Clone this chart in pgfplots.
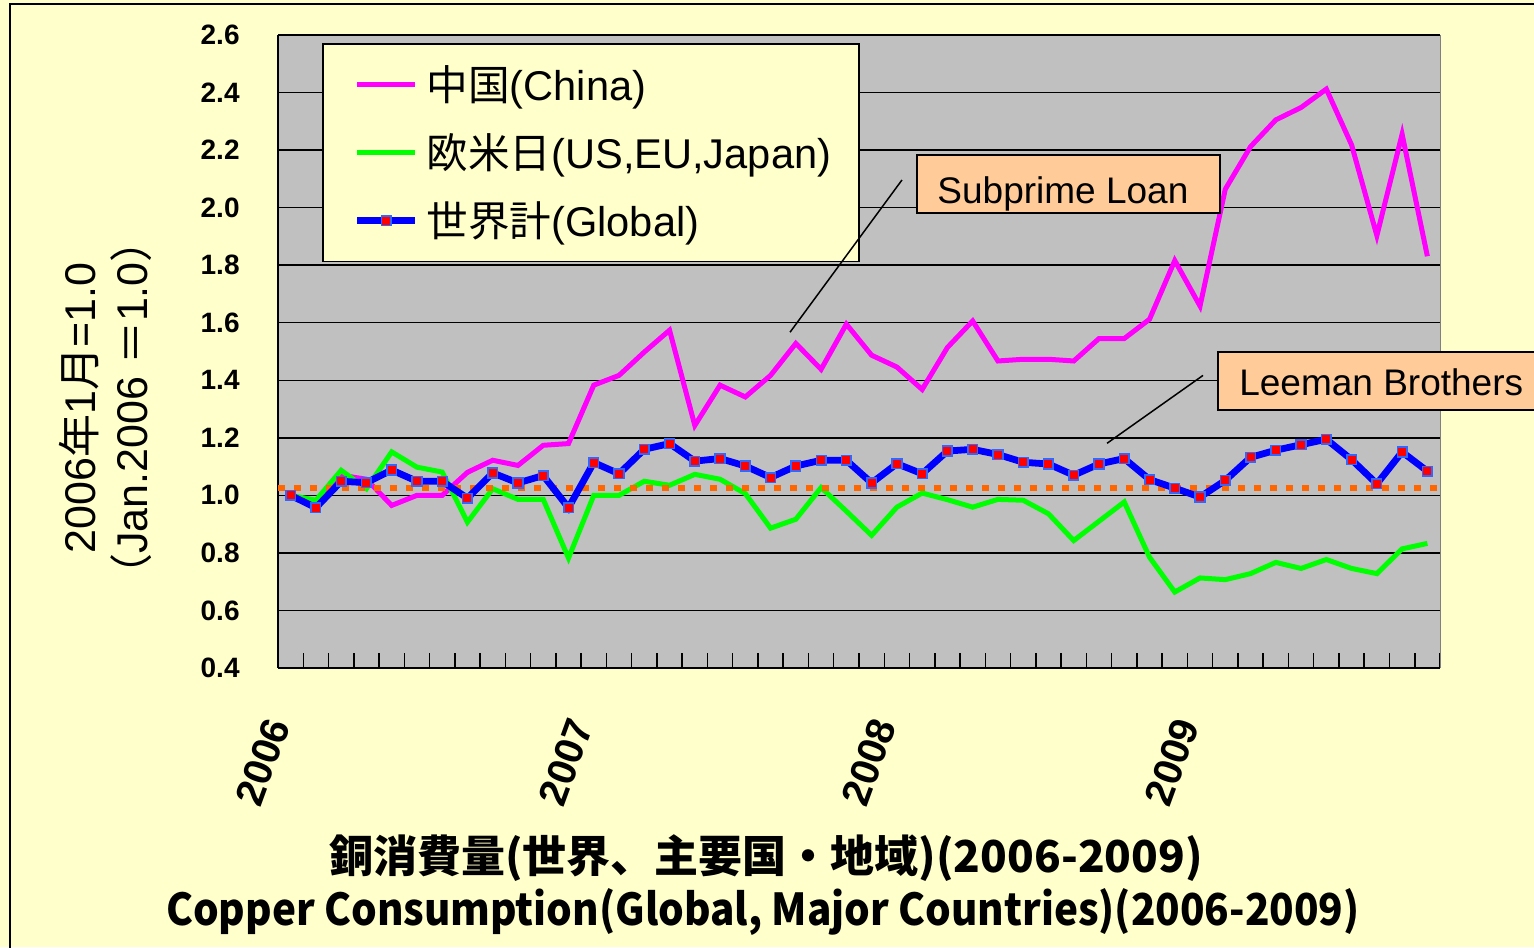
\documentclass[border=0pt]{standalone}
\usepackage{pgfplots}
\usepackage{pgfplotstable}
\pgfplotsset{compat=1.18}
\usepackage{fontspec}
\setmainfont{Liberation Sans}
\newfontfamily\cjk{Noto Sans CJK JP}
\definecolor{bgyellow}{HTML}{FFFFCC}
\definecolor{plotgray}{HTML}{C0C0C0}
\definecolor{peach}{HTML}{FFCC99}
\definecolor{cmag}{HTML}{FF00FF}
\definecolor{cgreen}{HTML}{00FF00}
\definecolor{cblue}{HTML}{0000FF}
\definecolor{mkborder}{HTML}{3366FF}
\definecolor{corange}{HTML}{FF6600}

\pgfplotstableread{
i  china  useuj  global
0  1.000  1.000  1.000
1  0.957  0.983  0.957
2  1.070  1.087  1.049
3  1.056  1.023  1.044
4  0.965  1.151  1.088
5  1.000  1.098  1.049
6  1.000  1.081  1.049
7  1.080  0.907  0.990
8  1.122  1.023  1.078
9  1.104  0.986  1.043
10 1.174  0.986  1.069
11 1.180  0.782  0.957
12 1.383  1.000  1.114
13 1.417  1.000  1.075
14 1.498  1.049  1.160
15 1.574  1.035  1.180
16 1.243  1.073  1.119
17 1.383  1.056  1.128
18 1.342  1.006  1.102
19 1.417  0.886  1.062
20 1.528  0.917  1.102
21 1.438  1.027  1.122
22 1.595  0.945  1.122
23 1.487  0.861  1.043
24 1.446  0.959  1.110
25 1.368  1.008  1.075
26 1.514  0.985  1.154
27 1.606  0.959  1.160
28 1.467  0.986  1.142
29 1.473  0.983  1.115
30 1.473  0.936  1.109
31 1.467  0.843  1.070
32 1.545  0.910  1.109
33 1.545  0.977  1.128
34 1.612  0.785  1.055
35 1.816  0.664  1.025
36 1.658  0.713  0.994
37 2.064  0.707  1.052
38 2.212  0.728  1.132
39 2.305  0.767  1.157
40 2.348  0.746  1.176
41 2.412  0.777  1.195
42 2.218  0.746  1.124
43 1.903  0.728  1.040
44 2.255  0.814  1.151
45 1.831  0.833  1.084
}\datatable

\begin{document}
\begin{tikzpicture}[x=1pt,y=1pt]
\fill[bgyellow] (0,0) rectangle (767,473.5);
\useasboundingbox (0,0) rectangle (767,473.5);
\draw[line width=0.75pt] (5,-20) -- (5,471.5) -- (800,471.5);
\begin{axis}[
  at={(139pt,139.5pt)}, anchor=south west,
  scale only axis, width=581pt, height=316.5pt,
  xmin=-0.5, xmax=45.5, ymin=0.4, ymax=2.6,
  clip=false,
  axis background/.style={fill=plotgray},
  axis x line*=bottom, axis y line*=left,
  axis line style={line width=1pt, black},
  ytick={0.4,0.6,0.8,1.0,1.2,1.4,1.6,1.8,2.0,2.2,2.4,2.6},
  ymajorgrids, major grid style={black, line width=0.75pt},
  ytick style={draw=none},
  yticklabel style={font=\bfseries\fontsize{14}{14}\selectfont, anchor=east, inner sep=0pt, xshift=-19pt,
    /pgf/number format/.cd, fixed, fixed zerofill, precision=1, assume math mode=true},
  xtick={-0.5,11.5,23.5,35.5},
  xticklabels={2006,2007,2008,2009},
  minor xtick={0.5,1.5,...,45.5},
  tick align=inside,
  xtick style={black, line width=0.75pt},
  major tick length=7.5pt, minor tick length=7.5pt,
  xticklabel style={rotate=70, anchor=east, inner sep=0pt, font=\bfseries\fontsize{20}{20}\selectfont},
  xticklabel shift=26pt,
  legend style={at={(0.0379,0.987)}, anchor=north west, fill=bgyellow, draw=black, line width=0.75pt,
    font=\fontsize{20.8}{24}\selectfont, row sep=11pt, inner xsep=12pt, inner ysep=9pt, cells={anchor=west},
    /tikz/every odd column/.append style={column sep=2pt}},
  legend image code/.code={\path (0pt,0pt); \draw[mark repeat=2,mark phase=2,#1] plot coordinates {(3.5pt,0pt) (18pt,0pt) (32.5pt,0pt)};},
]
\addplot[cmag, line width=2.5pt] table[x=i, y=china] {\datatable};
\addlegendentry{{\cjk 中国}(China)}
\addplot[cgreen, line width=2.5pt] table[x=i, y=useuj] {\datatable};
\addlegendentry{{\cjk 欧米日}(US,EU,Japan)}
\addplot[corange, line width=3.3pt, dash pattern=on 3.3pt off 4.7pt, forget plot] coordinates {(-0.5,1.025) (45.5,1.025)};
\addplot[cblue, line width=3.4pt, mark=square*, mark size=2.4pt, mark options={fill=red, draw=mkborder, line width=0.8pt, solid}] table[x=i, y=global] {\datatable};
\addlegendentry{{\cjk 世界計}(Global)}
\draw[gray, line width=0.5pt] (rel axis cs:1,0) -- (rel axis cs:1,1);
% annotation anchor points
\coordinate (s1) at (axis cs:19.77,1.567);
\coordinate (s2) at (axis cs:24.20,2.096);
\coordinate (l1) at (axis cs:32.32,1.181);
\coordinate (l2) at (axis cs:36.12,1.417);
\coordinate (sb1) at (axis cs:24.80,1.981);
\coordinate (sb2) at (axis cs:36.79,2.183);
\coordinate (st) at (axis cs:25.59,2.016);
\coordinate (lb1) at (axis cs:36.71,1.296);
\coordinate (lb2) at (axis cs:50.25,1.497);
\coordinate (lt) at (axis cs:37.54,1.348);
\end{axis}
\draw[black, line width=0.75pt] (s1) -- (s2);
\draw[black, line width=0.75pt] (l1) -- (l2);
\draw[black, line width=1pt, fill=peach] (sb1) rectangle (sb2);
\node[anchor=base west, inner sep=0pt, font=\fontsize{18.5}{18.5}\selectfont] at (st) {Subprime Loan};
\draw[black, line width=1pt, fill=peach] (lb1) rectangle (lb2);
\node[anchor=base west, inner sep=0pt, font=\fontsize{18.5}{18.5}\selectfont] at (lt) {Leeman Brothers};
\node[rotate=90, font=\fontsize{21.5}{21.5}\selectfont] at (39.75,269.5) {2006{\cjk 年}1{\cjk 月}=1.0};
\node[rotate=90, font=\fontsize{21.5}{21.5}\selectfont] at (65.5,269.5) {{\cjk （}Jan.2006 {\cjk ＝}1.0{\cjk ）}};
\node[font=\cjk\bfseries\fontsize{22}{22}\selectfont] at (383,44.5) {銅消費量(世界、主要国・地域)(2006-2009)};
\node[font=\cjk\bfseries\fontsize{22}{22}\selectfont] at (381.5,17.5) {\scalebox{0.919}[1]{Copper Consumption(Global, Major Countries)(2006-2009)}};
\end{tikzpicture}
\end{document}
